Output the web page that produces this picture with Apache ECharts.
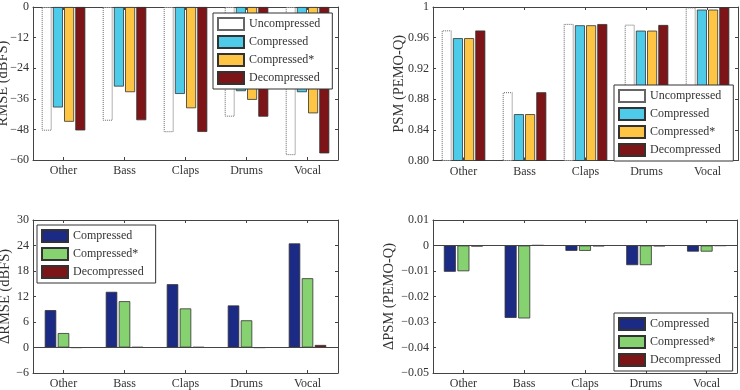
<!DOCTYPE html>
<html><head><meta charset="utf-8">
<script src="https://cdn.jsdelivr.net/npm/echarts@6/dist/echarts.min.js"></script>
<style>html,body{margin:0;padding:0;background:#fff}#c{width:740px;height:390px}</style>
</head><body><div id="c"></div>
<script>
// ---- data ----
const categories = ['Other', 'Bass', 'Claps', 'Drums', 'Vocal'];

const rmseTicks = [-60, -48, -36, -24, -12, 0];
const rmseUncompressed  = [-48.5, -44.6, -49.1, -43.0, -58.1];
const rmseCompressed    = [-39.4, -31.2, -34.1, -33.0, -33.4];
const rmseCompressedS   = [-45.0, -33.4, -39.7, -36.4, -41.7];
const rmseDecompressed  = [-48.4, -44.4, -49.0, -43.0, -57.4];

const psmTicks = [0.80, 0.84, 0.88, 0.92, 0.96, 1.00];
const psmUncompressed  = [0.9696, 0.889, 0.978, 0.977, 0.9995];
const psmCompressed    = [0.9594, 0.8604, 0.9762, 0.9692, 0.9966];
const psmCompressedS   = [0.9594, 0.8604, 0.9762, 0.9692, 0.9966];
const psmDecompressed  = [0.9694, 0.8889, 0.9778, 0.9766, 0.9994];

const dRmseTicks = [-6, 0, 6, 12, 18, 24, 30];
const dRmseCompressed   = [8.8, 13.1, 14.9, 9.9, 24.5];
const dRmseCompressedS  = [3.4, 10.9, 9.2, 6.4, 16.3];
const dRmseDecompressed = [-0.05, 0.1, 0.1, -0.05, 0.6];

const dPsmTicks = [-0.05, -0.04, -0.03, -0.02, -0.01, 0, 0.01];
const dPsmCompressed   = [-0.0103, -0.0284, -0.0021, -0.0077, -0.0024];
const dPsmCompressedS  = [-0.0101, -0.0286, -0.0021, -0.0077, -0.0024];
const dPsmDecompressed = [-0.0004, 0.0001, -0.0003, -0.0003, -0.0001];

// ---- styling ----
const FONT = 'Liberation Serif';
const AX = '#444';
const TXT = '#333';
const C_UNC = '#ffffff', C_CMP = '#4FCBEA', C_CMPS = '#FDC543', C_DEC = '#7D1518';
const C_CMP2 = '#1B2A84', C_CMPS2 = '#86D170';

const minus = s => String(s).replace(/-/g, '\u2212');

const panels = [
  { key: 'p1', grid: {left: 33, top: 7, width: 305, height: 153},
    ticks: rmseTicks, fmt: v => minus(Math.round(v)), yName: 'RMSE (dBFS)', nameGap: 22,
    barWidth: 10, barGap: '12%', legend: {left: 213, top: 13}, zero: false,
    series: [
      ['Uncompressed', rmseUncompressed, C_UNC, true],
      ['Compressed', rmseCompressed, C_CMP],
      ['Compressed*', rmseCompressedS, C_CMPS],
      ['Decompressed', rmseDecompressed, C_DEC]] },
  { key: 'p2', grid: {left: 433, top: 7, width: 305, height: 153.5},
    ticks: psmTicks, fmt: v => Math.abs(v - 1) < 1e-9 ? '1' : v.toFixed(2), yName: 'PSM (PEMO-Q)', nameGap: 26,
    barWidth: 10, barGap: '12%', legend: {left: 614, top: 85}, zero: false,
    series: [
      ['Uncompressed', psmUncompressed, C_UNC, true],
      ['Compressed', psmCompressed, C_CMP],
      ['Compressed*', psmCompressedS, C_CMPS],
      ['Decompressed', psmDecompressed, C_DEC]] },
  { key: 'p3', grid: {left: 33, top: 220, width: 305, height: 153},
    ticks: dRmseTicks, fmt: v => minus(Math.round(v)), yName: '\u0394RMSE (dBFS)', nameGap: 20,
    barWidth: 11.5, barGap: '13%', legend: {left: 37, top: 225}, zero: true,
    series: [
      ['Compressed', dRmseCompressed, C_CMP2],
      ['Compressed*', dRmseCompressedS, C_CMPS2],
      ['Decompressed', dRmseDecompressed, C_DEC]] },
  { key: 'p4', grid: {left: 433, top: 220, width: 304, height: 153},
    ticks: dPsmTicks, fmt: v => Math.abs(v) < 1e-9 ? '0' : minus(v.toFixed(2)), yName: '\u0394PSM (PEMO-Q)', nameGap: 36,
    barWidth: 12, barGap: '13%', legend: {left: 614, top: 313}, zero: true,
    series: [
      ['Compressed', dPsmCompressed, C_CMP2],
      ['Compressed*', dPsmCompressedS, C_CMPS2],
      ['Decompressed', dPsmDecompressed, C_DEC]] }
];

const option = { animation: false, backgroundColor: '#fff',
  grid: [], xAxis: [], yAxis: [], series: [], legend: [] };

panels.forEach((p, gi) => {
  option.grid.push(Object.assign({ containLabel: false, outerBoundsMode: 'none' }, p.grid));
  const tick = { show: true, inside: true, length: 3, alignWithLabel: true, lineStyle: { color: AX, width: 1 } };
  const line = { show: true, onZero: false, lineStyle: { color: AX, width: 1 } };
  const lbl = { fontFamily: FONT, fontSize: 12, color: TXT };
  option.xAxis.push({ gridIndex: gi, type: 'category', data: categories, position: 'bottom',
    axisLine: line, axisTick: tick, splitLine: { show: false },
    axisLabel: Object.assign({ margin: 5 }, lbl) });
  option.xAxis.push({ gridIndex: gi, type: 'category', data: categories, position: 'top',
    axisLine: line, axisTick: tick, splitLine: { show: false }, axisLabel: { show: false } });
  const yMin = p.ticks[0], yMax = p.ticks[p.ticks.length - 1];
  const yInt = +(p.ticks[1] - p.ticks[0]).toFixed(6);
  const ytick = { show: true, inside: true, length: 3, lineStyle: { color: AX, width: 1 } };
  option.yAxis.push({ gridIndex: gi, type: 'value', position: 'left', min: yMin, max: yMax, interval: yInt,
    axisLine: line, axisTick: ytick, splitLine: { show: false },
    axisLabel: Object.assign({ margin: 4, formatter: p.fmt }, lbl),
    name: p.yName, nameLocation: 'middle', nameGap: p.nameGap, nameMoveOverlap: false,
    nameTextStyle: { fontFamily: FONT, fontSize: 14.5, color: TXT } });
  option.yAxis.push({ gridIndex: gi, type: 'value', position: 'right', min: yMin, max: yMax, interval: yInt,
    axisLine: line, axisTick: ytick, splitLine: { show: false }, axisLabel: { show: false } });

  const names = [];
  p.series.forEach((s, si) => {
    const [nm, vals, col, dotted] = s;
    const full = p.key + ':' + nm;
    names.push(full);
    const ser = { type: 'bar', name: full, xAxisIndex: gi * 2, yAxisIndex: gi * 2,
      data: vals, barWidth: p.barWidth, barGap: p.barGap,
      itemStyle: dotted
        ? { color: col, borderColor: '#666', borderWidth: 1, borderType: 'dotted' }
        : { color: col, borderColor: '#333', borderWidth: 0.8 } };
    if (p.zero && si === 0) {
      ser.markLine = { silent: true, symbol: ['none', 'none'], label: { show: false },
        lineStyle: { color: AX, type: 'solid', width: 1 }, data: [{ yAxis: 0 }] };
    }
    option.series.push(ser);
  });
  option.legend.push(Object.assign({
    data: names, orient: 'vertical', icon: 'rect', itemWidth: 26, itemHeight: 12, itemGap: 4,
    padding: [4, 12, 4, 4], backgroundColor: '#fff', borderColor: '#333', borderWidth: 1, borderRadius: 0,
    selectedMode: false,
    formatter: n => n.split(':')[1],
    textStyle: { fontFamily: FONT, fontSize: 12, color: TXT, lineHeight: 12 }
  }, p.legend));
});

const chart = echarts.init(document.getElementById('c'), null, { renderer: 'canvas' });
chart.setOption(option);
</script>
</body></html>
